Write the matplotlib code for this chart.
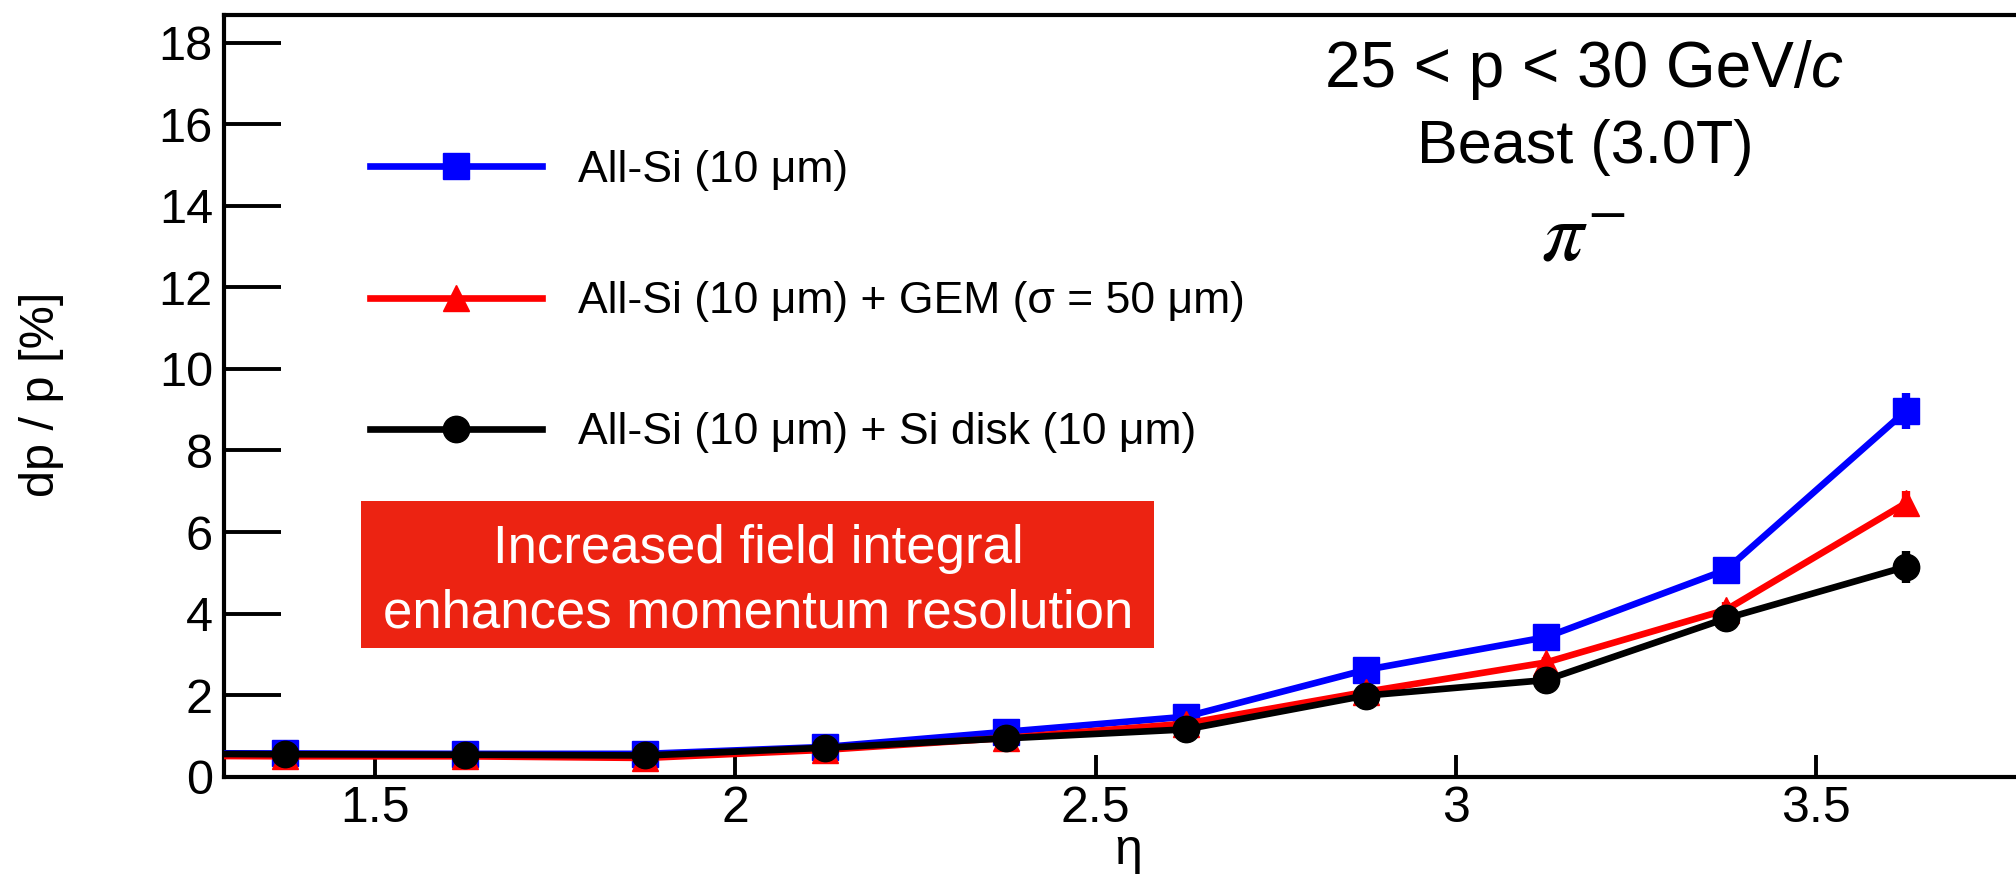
import numpy as np
import matplotlib
matplotlib.use("Agg")
import matplotlib.pyplot as plt
from matplotlib.patches import Rectangle

plt.rcParams['font.family'] = ['Liberation Sans', 'DejaVu Sans']
plt.rcParams['mathtext.fontset'] = 'stix'

# eta bins (first one sits just left of the visible range)
eta = [1.125, 1.375, 1.625, 1.875, 2.125, 2.375, 2.625, 2.875, 3.125, 3.375, 3.625]

# dp/p [%]
dp_allsi = [0.58, 0.57, 0.56, 0.56, 0.73, 1.10, 1.47, 2.62, 3.42, 5.07, 8.97]
err_allsi = [0.01, 0.02, 0.02, 0.02, 0.03, 0.05, 0.07, 0.12, 0.17, 0.25, 0.44]

dp_gem = [0.52, 0.50, 0.50, 0.46, 0.66, 0.95, 1.30, 2.08, 2.80, 4.09, 6.71]
err_gem = [0.01, 0.02, 0.02, 0.02, 0.03, 0.04, 0.06, 0.10, 0.14, 0.20, 0.30]

dp_disk = [0.57, 0.55, 0.54, 0.52, 0.71, 0.94, 1.16, 1.99, 2.37, 3.88, 5.15]
err_disk = [0.01, 0.02, 0.02, 0.02, 0.03, 0.04, 0.06, 0.10, 0.14, 0.20, 0.39]

labels = ["All-Si (10 \u03bcm)",
          "All-Si (10 \u03bcm) + GEM (\u03c3 = 50 \u03bcm)",
          "All-Si (10 \u03bcm) + Si disk (10 \u03bcm)"]

fig = plt.figure(figsize=(20.16, 8.77), dpi=100)
# axes runs a little past the right edge, like the cropped original
ax = fig.add_axes([224/2016, 100.3/877, 1808/2016, 761.7/877])

series = [(dp_allsi, err_allsi, 'blue', 's', labels[0]),
          (dp_gem, err_gem, 'red', '^', labels[1]),
          (dp_disk, err_disk, 'black', 'o', labels[2])]

for i, (y, e, c, m, lab) in enumerate(series):
    ax.errorbar(eta, y, yerr=e, fmt='none', ecolor=c, elinewidth=6,
                capsize=0, zorder=3 + i)
    ax.plot(eta, y, color=c, marker=m, markersize=19, lw=4.8,
            label=lab, zorder=3 + i)

ax.set_xlim(1.29, 3.80)
ax.set_ylim(0, 18.68)
ax.set_xticks([1.5, 2, 2.5, 3, 3.5])
ax.set_xticklabels(['1.5', '2', '2.5', '3', '3.5'])
ax.set_yticks(np.arange(0, 19, 2))

ax.tick_params(axis='x', direction='in', length=16, width=2.8, labelsize=36, pad=7)
ax.tick_params(axis='y', direction='in', length=41, width=2.8, labelsize=35, pad=8)
for s in ['left', 'bottom', 'top']:
    ax.spines[s].set_linewidth(3)
ax.spines['right'].set_visible(False)

ax.set_ylabel('dp / p [%]', fontsize=35)
ax.yaxis.set_label_coords(-0.0885, 0.502)
ax.set_xlabel('\u03b7', fontsize=36)
ax.xaxis.set_label_coords(0.5, -0.068)

ax.legend(loc='upper left', bbox_to_anchor=(370/2016, 1 - 150/877),
          bbox_transform=fig.transFigure, frameon=False, fontsize=32,
          borderpad=0, borderaxespad=0, handlelength=3.87,
          handletextpad=0.81, labelspacing=2.03)

# red annotation box
ax.add_patch(Rectangle((0.076, 0.169), 0.4386, 0.193, transform=ax.transAxes,
                       facecolor='#EC2312', edgecolor='none', zorder=2))
ax.text(0.2954, 0.257, 'Increased field integral\nenhances momentum resolution',
        transform=ax.transAxes, ha='center', va='center', color='white',
        fontsize=38, linespacing=1.38, zorder=2.5)

# header text, italic c tacked on after the first part
t1 = fig.text(1568/2016, 1 - 70/877, '25 < p < 30 GeV/', ha='center', va='center',
              fontsize=46)
ax.annotate('c', xy=(1, 0), xycoords=t1, ha='left', va='bottom',
            fontsize=46, style='italic', annotation_clip=False)
fig.text(1585/2016, 1 - 147/877, 'Beast (3.0T)', ha='center', va='center',
         fontsize=44)
fig.text(1584/2016, 1 - 238/877, r'$\pi^{-}$', ha='center', va='center',
         fontsize=60)

fig.savefig('out.png', dpi=100)
